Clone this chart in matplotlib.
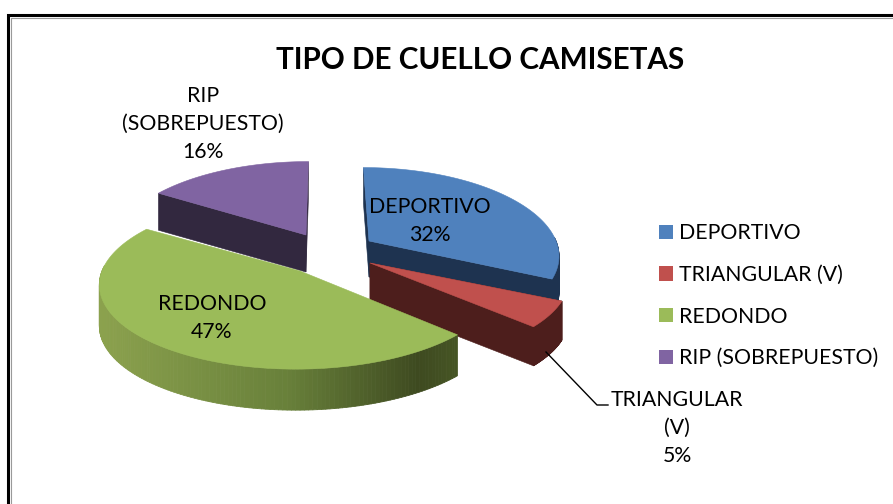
import numpy as np
import matplotlib
matplotlib.use("Agg")
import matplotlib.pyplot as plt
from matplotlib.patches import Polygon, Patch
from matplotlib.collections import PolyCollection
from matplotlib.colors import to_rgb

# ---- data ----
categories = ["DEPORTIVO", "TRIANGULAR (V)", "REDONDO", "RIP (SOBREPUESTO)"]
values = [32, 5, 47, 16]
title = "TIPO DE CUELLO CAMISETAS"
data_labels = ["DEPORTIVO", "TRIANGULAR\n(V)", "REDONDO", "RIP\n(SOBREPUESTO)"]

# ---- style ----
top_colors = ["#4f81bd", "#c0504d", "#9bbb59", "#8064a2"]
wall_colors = ["#1e3350", "#4d1e1c", None, "#32283f"]
centers = [(369, 241), (370, 263), (300, 271), (306, 235)]   # exploded apex of each slice
radii = [187, 196, 198, 190]
depths = [36, 39, 41, 37]
label_pos = [(430, 221), (677, 428), (212, 318), (203, 124)]
RY, K, VX = 84, 0.144, 325

plt.rcParams["font.family"] = ["Lato", "DejaVu Sans"]
fig = plt.figure(figsize=(8.93, 5.04), dpi=100)
ax = fig.add_axes([0, 0, 1, 1])
ax.set_xlim(0, 893)
ax.set_ylim(504, 0)
ax.axis("off")


def project(center, radius, theta):
    """Perspective projection of a rim point; theta clockwise from 12 o'clock."""
    u, v = np.sin(theta), np.cos(theta)
    s = 1 / (1 + K * v)
    return VX + (center[0] - VX + radius * u) * s, center[1] - RY * v * s


def wall_shade(x):
    stops = [97, 290, 420, 458]
    cols = np.array([(140, 162, 78), (104, 128, 58), (62, 74, 32), (70, 85, 36)]) / 255
    return [np.interp(x, stops, cols[:, i]) for i in range(3)]


# frame
ax.plot([8, 8, 893], [504, 15, 15], color="#000000", lw=2.2, solid_joinstyle="miter", zorder=0)
ax.plot([10.5, 10.5, 893], [504, 17.5, 17.5], color="#9a9a9a", lw=0.8, zorder=0)

total = sum(values)
edges = np.radians(np.cumsum([0] + values) / total * 360)
draw_order = [3, 0, 1, 2]
for z, i in enumerate(draw_order):
    c = centers[i]
    d = depths[i]
    a0, a1 = edges[i], edges[i + 1]
    th = np.linspace(a0, a1, 160)
    xs, ys = project(c, radii[i], th)
    base = 10 + z * 5
    # radial walls
    for px, py in ((xs[0], ys[0]), (xs[-1], ys[-1])):
        if i == 2:
            continue
        ax.add_patch(Polygon([c, (px, py), (px, py + d), (c[0], c[1] + d)],
                             closed=True, fc=wall_colors[i], ec=wall_colors[i], lw=0.4, zorder=base))
    # rim wall (front-facing part only)
    quads, cols = [], []
    for j in range(len(th) - 1):
        if np.cos(th[j]) < 0.05:
            quads.append([(xs[j], ys[j]), (xs[j + 1], ys[j + 1]),
                          (xs[j + 1], ys[j + 1] + d), (xs[j], ys[j] + d)])
            cols.append(wall_shade(xs[j]) if i == 2 else to_rgb(wall_colors[i]))
    if quads:
        ax.add_collection(PolyCollection(quads, facecolors=cols, edgecolors=cols, linewidths=0.6, zorder=base + 1))
    # top surface
    ax.add_patch(Polygon(np.vstack([[c], np.column_stack([xs, ys])]), closed=True,
                         fc=top_colors[i], ec=top_colors[i], lw=0.4, zorder=base + 2))

# leader line for the small slice
ax.plot([546, 597, 608], [352, 405, 405], color="black", lw=1.0, zorder=40)

# data labels
for name, v, (x, y) in zip(data_labels, values, label_pos):
    ax.text(x, y, f"{name}\n{v / total * 100:.0f}%", ha="center", va="center", fontsize=15.3,
            color="black", linespacing=1.53, zorder=50, multialignment="center")

ax.text(480, 60, title, ha="center", va="center", fontsize=21.3, fontweight="bold", color="black")

handles = [Patch(fc=col, ec="none") for col in top_colors]
leg = ax.legend(handles, categories, loc="upper left", bbox_to_anchor=(655 / 893, 1 - 219 / 504),
                bbox_transform=fig.transFigure, frameon=False, fontsize=15.3, labelspacing=1.02,
                handlelength=0.65, handleheight=0.65, handletextpad=0.3, borderpad=0.2, borderaxespad=0)

fig.savefig("out.png", dpi=100)
